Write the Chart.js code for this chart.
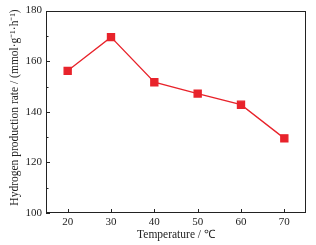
<!DOCTYPE html>
<html><head><meta charset="utf-8">
<script src="https://cdn.jsdelivr.net/npm/chart.js@4/dist/chart.umd.min.js"></script>
<style>html,body{margin:0;padding:0;background:#fff}#wrap{width:316px;height:245px}</style>
</head><body><div id="wrap"><canvas id="c" width="316" height="245"></canvas></div>
<script>
const temperatures = [20, 30, 40, 50, 60, 70];
const rates = [156.2, 169.5, 151.7, 147.2, 142.8, 129.5];
const xTicks = [20, 30, 40, 50, 60, 70];
const yTicks = [100, 120, 140, 160, 180];
const yMinorTicks = [110, 130, 150, 170];
const xTitle = 'Temperature / \u2103';
const yTitle = '   Hydrogen production rate / (mmol\u00b7g\u207b\u00b9\u00b7h\u207b\u00b9)';

const FONT = '"Liberation Serif", "Times New Roman", serif';

const framePlugin = {
  id: 'frame',
  afterDatasetsDraw(chart) {
    const {ctx, chartArea: a, scales} = chart;
    ctx.save();
    ctx.strokeStyle = '#222';
    ctx.lineWidth = 1;
    ctx.strokeRect(Math.round(a.left) + 0.5, Math.round(a.top) + 0.5, Math.round(a.right - a.left) - 1, Math.round(a.bottom - a.top) - 1);
    ctx.beginPath();
    xTicks.forEach(v => {
      const px = Math.round(scales.x.getPixelForValue(v)) + 0.5;
      ctx.moveTo(px, a.bottom); ctx.lineTo(px, a.bottom - 4);
    });
    yTicks.forEach(v => {
      const py = Math.round(scales.y.getPixelForValue(v)) + 0.5;
      ctx.moveTo(a.left, py); ctx.lineTo(a.left + 4, py);
    });
    yMinorTicks.forEach(v => {
      const py = Math.round(scales.y.getPixelForValue(v)) + 0.5;
      ctx.moveTo(a.left, py); ctx.lineTo(a.left + 2.5, py);
    });
    ctx.stroke();
    ctx.restore();
  }
};

new Chart(document.getElementById('c'), {
  type: 'line',
  data: {
    datasets: [{
      data: temperatures.map((t, i) => ({x: t, y: rates[i]})),
      borderColor: '#e8232b',
      backgroundColor: '#e8232b',
      borderWidth: 1.3,
      pointStyle: 'rect',
      pointRadius: 5,
      pointHoverRadius: 5,
      tension: 0
    }]
  },
  options: {
    responsive: false,
    animation: false,
    devicePixelRatio: 1,
    layout: {padding: {top: 10, right: 10, left: 0, bottom: 0}},
    plugins: {legend: {display: false}, tooltip: {enabled: false}},
    scales: {
      x: {
        type: 'linear', min: 15, max: 75,
        afterBuildTicks: s => { s.ticks = xTicks.map(v => ({value: v})); },
        afterFit: s => { s.height = 32; },
        grid: {display: false, drawTicks: false},
        border: {display: false},
        ticks: {color: '#222', padding: 3, font: {family: FONT, size: 11}},
        title: {display: true, text: xTitle, color: '#222', padding: {top: 0, bottom: 3}, font: {family: FONT, size: 11.5}}
      },
      y: {
        type: 'linear', min: 100, max: 180,
        afterBuildTicks: s => { s.ticks = yTicks.map(v => ({value: v})); },
        afterFit: s => { s.width = 46; },
        grid: {display: false, drawTicks: false},
        border: {display: false},
        ticks: {color: '#222', padding: 4, font: {family: FONT, size: 11}},
        title: {display: true, text: yTitle, color: '#222', padding: {top: 8, bottom: 0}, font: {family: FONT, size: 11.5}}
      }
    }
  },
  plugins: [framePlugin]
});
</script></body></html>
